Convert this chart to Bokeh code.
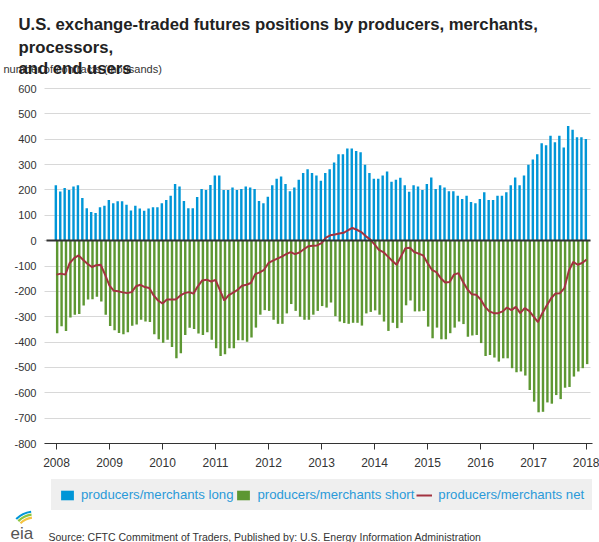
from bokeh.plotting import figure
from bokeh.models import (ColumnDataSource, Range1d, FixedTicker, Legend, LegendItem,
                          Label, Grid)
from bokeh.embed import file_html
from bokeh.resources import INLINE

# ---------------- data (thousands of contracts, monthly Jan-2008 .. Jan-2018) ----------------
years = ["2008", "2009", "2010", "2011", "2012", "2013", "2014", "2015", "2016", "2017", "2018"]

long_pos = [218, 194, 208, 200, 214, 218, 168, 128, 113, 109, 132, 138,
            160, 147, 155, 155, 142, 119, 138, 127, 118, 127, 132, 132,
            147, 160, 177, 223, 214, 156, 128, 128, 172, 204, 200, 219,
            257, 257, 200, 200, 210, 200, 204, 214, 210, 204, 156, 147,
            173, 218, 244, 253, 223, 195, 210, 240, 267, 282, 267, 257,
            236, 267, 282, 308, 341, 341, 363, 363, 354, 349, 299, 267,
            244, 244, 257, 273, 232, 240, 248, 218, 193, 218, 214, 200,
            223, 249, 204, 218, 210, 195, 195, 177, 164, 177, 152, 147,
            164, 191, 160, 160, 177, 177, 191, 218, 249, 218, 257, 299,
            320, 341, 384, 376, 414, 388, 414, 367, 452, 437, 408, 408,
            401]

short_pos = [-365, -338, -356, -303, -292, -289, -256, -232, -231, -221, -240, -292,
             -337, -353, -364, -369, -361, -336, -331, -312, -319, -321, -369, -389,
             -403, -391, -419, -464, -444, -372, -344, -348, -366, -372, -361, -391,
             -424, -455, -448, -424, -424, -393, -393, -399, -382, -343, -292, -274,
             -277, -312, -328, -328, -287, -250, -277, -300, -312, -312, -292, -277,
             -258, -264, -244, -298, -319, -325, -328, -324, -324, -335, -287, -281,
             -275, -292, -319, -356, -324, -345, -324, -255, -236, -279, -279, -277,
             -339, -385, -343, -389, -389, -365, -343, -319, -329, -379, -374, -372,
             -404, -455, -451, -461, -477, -464, -464, -503, -519, -516, -532, -589,
             -635, -677, -675, -638, -643, -609, -625, -580, -577, -536, -516, -503,
             -487]

net_pos = [-134, -130, -134, -88, -69, -58, -75, -91, -104, -97, -95, -134,
           -177, -198, -200, -204, -207, -203, -180, -174, -183, -187, -216, -236,
           -248, -232, -232, -232, -217, -207, -203, -209, -180, -157, -154, -161,
           -155, -195, -236, -215, -205, -194, -178, -174, -167, -132, -125, -115,
           -88, -79, -71, -63, -53, -45, -53, -47, -34, -22, -20, -19,
           -10, 12, 21, 24, 28, 31, 41, 50, 43, 34, 18, 5,
           -15, -36, -45, -62, -79, -95, -62, -30, -28, -45, -51, -58,
           -88, -115, -124, -148, -165, -163, -134, -128, -161, -191, -211, -213,
           -231, -260, -279, -286, -286, -279, -264, -274, -261, -286, -266, -277,
           -299, -321, -286, -256, -227, -208, -207, -187, -119, -84, -95, -88,
           -75]

y_ticks = list(range(-800, 601, 100))

# ---------------- styling / geometry ----------------
FONT = "Liberation Sans"
BLUE = "#0096d7"
GREEN = "#5d9732"
RED = "#a33340"
LEGEND_BG = "#efefef"

W, H = 599, 542
PLOT_L, PLOT_R, PLOT_T, PLOT_B = 44, 590, 88, 443        # page px of the plotting area
AXIS_X_PX = 47
X0_PX, X_PER = 56.0, 530.0 / 120.0                       # 2008 tick at 56px, one month = 4.417px
Y_MIN, Y_MAX = -800, 600

def px2x(px):
    return (px - X0_PX) / X_PER

def py2y(py):
    return Y_MAX - (py - PLOT_T) * (Y_MAX - Y_MIN) / (PLOT_B - PLOT_T)

month = list(range(len(long_pos)))
src = ColumnDataSource(data=dict(
    x_long=[m - 0.15 for m in month],
    x_short=[m + 0.15 for m in month],
    x=month, long=long_pos, short=short_pos, net=net_pos,
))

# frame covers the whole canvas; axes are pinned at the plotting area's edges
p = figure(width=W, height=H, output_backend="svg", toolbar_location=None,
           x_range=Range1d(px2x(0), px2x(W)),
           y_range=Range1d(py2y(H), py2y(0)),
           min_border=0)
p.outline_line_color = None
p.background_fill_color = "white"
p.border_fill_color = "white"

has_cross = "cross_bounds" in Grid.properties()

# grid
p.xgrid.visible = False
p.ygrid.ticker = FixedTicker(ticks=y_ticks)
p.ygrid.grid_line_color = "#d8d8d8"
p.ygrid.grid_line_width = 1
if has_cross:
    p.ygrid.cross_bounds = (px2x(PLOT_L), px2x(PLOT_R))

r_long = p.vbar(x="x_long", top="long", bottom=0, width=0.55, source=src,
                fill_color=BLUE, line_color=None)
r_short = p.vbar(x="x_short", top=0, bottom="short", width=0.55, source=src,
                 fill_color=GREEN, line_color=None)

zero = Grid(dimension=1, ticker=FixedTicker(ticks=[0]), grid_line_color="#333333",
            grid_line_width=2, level="glyph")
if has_cross:
    zero.cross_bounds = (px2x(AXIS_X_PX - 1), px2x(PLOT_R))
p.add_layout(zero)

r_net = p.line(x="x", y="net", source=src, line_color=RED, line_width=2)

# y axis
p.yaxis.fixed_location = px2x(AXIS_X_PX)
p.yaxis.ticker = FixedTicker(ticks=y_ticks)
p.yaxis.major_label_overrides = {t: str(t) for t in y_ticks}
p.yaxis.axis_line_color = None
p.yaxis.major_tick_line_color = None
p.yaxis.minor_tick_line_color = None
p.yaxis.major_tick_out = 0
p.yaxis.major_label_standoff = 11
p.yaxis.major_label_text_font = FONT
p.yaxis.major_label_text_font_size = "11px"
p.yaxis.major_label_text_color = "#333333"

# x axis
x_ticks = [12 * k for k in range(len(years))]
p.xaxis.fixed_location = Y_MIN
p.xaxis.bounds = (px2x(PLOT_L), px2x(PLOT_R + 2))
p.xaxis.ticker = FixedTicker(ticks=x_ticks)
p.xaxis.major_label_overrides = {t: y for t, y in zip(x_ticks, years)}
p.xaxis.axis_line_color = "#333333"
p.xaxis.axis_line_width = 1
p.xaxis.major_tick_line_color = "#333333"
p.xaxis.minor_tick_line_color = None
p.xaxis.major_tick_out = 6
p.xaxis.major_tick_in = 0
p.xaxis.major_label_standoff = 8
p.xaxis.major_label_text_font = FONT
p.xaxis.major_label_text_font_size = "12px"
p.xaxis.major_label_text_color = "#333333"

# legend (screen px relative to the canvas bottom-left corner)
LEG_LEFT, LEG_BOTTOM = 51, 510
legend = Legend(items=[
    LegendItem(label="producers/merchants long", renderers=[r_long]),
    LegendItem(label="producers/merchants short", renderers=[r_short]),
    LegendItem(label="producers/merchants net", renderers=[r_net]),
], orientation="horizontal", location=(LEG_LEFT, H - LEG_BOTTOM),
    background_fill_color=LEGEND_BG, background_fill_alpha=1.0,
    border_line_color=LEGEND_BG, border_line_width=1,
    label_text_font=FONT, label_text_font_size="13.2px",
    label_text_color="#2a9ad9", glyph_width=16, glyph_height=12,
    label_standoff=6, spacing=2, padding=7, margin=0, label_height=14)
p.add_layout(legend, "center")

# texts
def add_text(px, py, text, size, style="normal", color="#222222"):
    p.add_layout(Label(x=px2x(px), y=py2y(py), x_units="data", y_units="data",
                       text=text, text_font=FONT, text_font_size=size,
                       text_font_style=style, text_color=color,
                       text_baseline="alphabetic", text_align="left"))

add_text(3, 68, "number of contracts (thousands)", "11px", color="#333333")
add_text(18, 24, "U.S. exchange-traded futures positions by producers, merchants,", "16.7px", "bold")
add_text(18, 46.5, "processors,", "16.7px", "bold")
add_text(18, 68, "and end users", "16.7px", "bold")
add_text(48, 536, "Source: CFTC Commitment of Traders, Published by: U.S. Energy Information Administration",
         "10.5px", color="#333333")
add_text(10, 533, "eia", "17px", color="#555555")

# eia logo swooshes (decoration, kept clear of the "eia" letters)
logo_c = (px2x(34), py2y(537))
for rad, col in [(20, "#f5c342"), (23, "#8cc63f"), (26, "#0096d7")]:
    p.arc(x=[logo_c[0]], y=[logo_c[1]], radius=rad, radius_units="screen",
          start_angle=1.7, end_angle=2.35, line_color=col, line_width=2.2)

open("out.html", "w").write(file_html(p, INLINE))
